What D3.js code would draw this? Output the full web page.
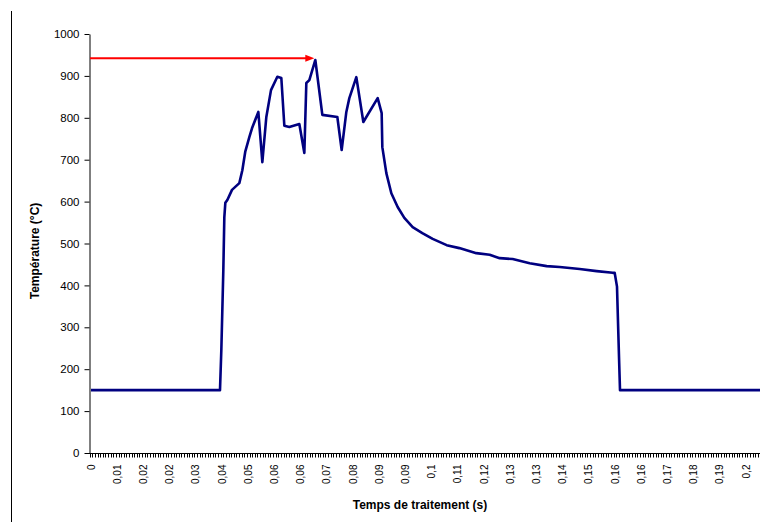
<!DOCTYPE html>
<html>
<head>
<meta charset="utf-8">
<script src="https://cdn.jsdelivr.net/npm/d3@7"></script>
<style>
  body { margin: 0; background: #fff; }
  text { font-family: "Liberation Sans", Arial, sans-serif; }
</style>
</head>
<body>
<div id="chart"></div>
<script>
// time (s) of each measured point
var times = [0, 0.0387, 0.0391, 0.0394, 0.0397, 0.0400, 0.0403, 0.0409, 0.0423, 0.0445,
  0.0454, 0.0463, 0.0475, 0.0483, 0.0502, 0.0514, 0.0526, 0.0540, 0.0559, 0.0571,
  0.0580, 0.0595, 0.0625, 0.0640, 0.0646, 0.0655, 0.0673, 0.0694, 0.0739, 0.0752,
  0.0766, 0.0775, 0.0796, 0.0817, 0.0860, 0.0872, 0.0874, 0.0886, 0.0901, 0.0920,
  0.0940, 0.0965, 0.0994, 0.1025, 0.1067, 0.1105, 0.1156, 0.1196, 0.1226, 0.1265,
  0.1316, 0.1367, 0.1406, 0.1466, 0.1517, 0.1565, 0.1571, 0.1578, 0.1581, 0.1584,
  0.1587, 0.2007];
// temperature (°C)
var temps = [150, 150, 246, 341, 437, 563, 597, 604, 628, 644,
  675, 720, 754, 775, 814, 694, 802, 866, 898, 895,
  781, 778, 785, 716, 883, 890, 938, 807, 802, 723,
  814, 847, 897, 790, 847, 811, 730, 668, 620, 587,
  561, 539, 525, 511, 496, 489, 477, 473, 465, 463,
  453, 446, 444, 439, 434, 430, 430, 397, 313, 230,
  150, 150];

var xLabels = ["0", "0,01", "0,02", "0,02", "0,03", "0,04", "0,05", "0,06", "0,06", "0,07",
  "0,08", "0,09", "0,09", "0,1", "0,11", "0,12", "0,13", "0,13", "0,14", "0,15",
  "0,16", "0,16", "0,17", "0,18", "0,19", "0,2"];
var yTicks = [0, 100, 200, 300, 400, 500, 600, 700, 800, 900, 1000];

var sampleStep = 0.000786;   // one category on the x axis
var labelEvery = 10;         // a label every 10 categories
var peakTime = 0.0673, peakArrowTemp = 942;

var width = 760, height = 522;

var svg = d3.select('#chart').append('svg')
  .attr('width', width)
  .attr('height', height);

var x = d3.scaleLinear()
  .domain([0, sampleStep * labelEvery * (xLabels.length - 1)])
  .range([91, 746]);
var y = d3.scaleLinear()
  .domain([0, 1000])
  .range([453, 34]);

// frame line on the left
svg.append('line')
  .attr('x1', 11.5).attr('x2', 11.5)
  .attr('y1', 11).attr('y2', height)
  .attr('stroke', '#000');

// y axis
var yAxis = svg.append('g')
  .attr('transform', 'translate(89.5,0)')
  .call(d3.axisLeft(y).tickValues(yTicks).tickFormat(d3.format('d'))
    .tickSize(5).tickPadding(5).tickSizeOuter(0));
yAxis.select('.domain').attr('stroke', '#000');
yAxis.selectAll('text').attr('font-size', 11.5).attr('fill', '#000');

// x axis : small tick per category
var minorTicks = [];
for (var k = 0; x((k - 0.5) * sampleStep) <= width; k++) {
  minorTicks.push((k - 0.5) * sampleStep);
}
var xAxis = svg.append('g')
  .attr('transform', 'translate(0,453.5)');
xAxis.append('line')
  .attr('x1', 89).attr('x2', width)
  .attr('stroke', '#000');
xAxis.selectAll('.minor')
  .data(minorTicks)
  .enter().append('line')
  .attr('class', 'minor')
  .attr('x1', function(d) { return Math.round(x(d)) + 0.5; })
  .attr('x2', function(d) { return Math.round(x(d)) + 0.5; })
  .attr('y1', 0).attr('y2', 4)
  .attr('stroke', '#000');
xAxis.selectAll('.lbl')
  .data(xLabels)
  .enter().append('text')
  .attr('class', 'lbl')
  .attr('transform', function(d, i) {
    return 'translate(' + (x(i * labelEvery * sampleStep) + 3.5) + ',11) rotate(-90)';
  })
  .attr('text-anchor', 'end')
  .attr('font-size', 10)
  .attr('fill', '#000')
  .text(function(d) { return d; });

// axis titles
svg.append('text')
  .attr('x', 420).attr('y', 509)
  .attr('text-anchor', 'middle')
  .attr('font-size', 12).attr('font-weight', 'bold')
  .text('Temps de traitement (s)');
svg.append('text')
  .attr('transform', 'translate(39,251) rotate(-90)')
  .attr('text-anchor', 'middle')
  .attr('font-size', 12).attr('font-weight', 'bold')
  .text('Température (°C)');

// temperature curve
var points = times.map(function(t, i) { return [t, temps[i]]; });
var line = d3.line()
  .x(function(d) { return x(d[0]); })
  .y(function(d) { return y(d[1]); });
svg.append('path')
  .datum(points)
  .attr('d', line)
  .attr('fill', 'none')
  .attr('stroke', '#000080')
  .attr('stroke-width', 2.6)
  .attr('stroke-linejoin', 'round');

// red arrow pointing to the peak
var ay = y(peakArrowTemp), tip = x(peakTime) - 1;
svg.append('line')
  .attr('x1', 90).attr('x2', tip - 6)
  .attr('y1', ay).attr('y2', ay)
  .attr('stroke', '#ff0000')
  .attr('stroke-width', 2);
svg.append('path')
  .attr('d', 'M' + tip + ',' + ay + 'L' + (tip - 9) + ',' + (ay - 3.5) + 'L' + (tip - 9) + ',' + (ay + 3.5) + 'Z')
  .attr('fill', '#ff0000');
</script>
</body>
</html>
